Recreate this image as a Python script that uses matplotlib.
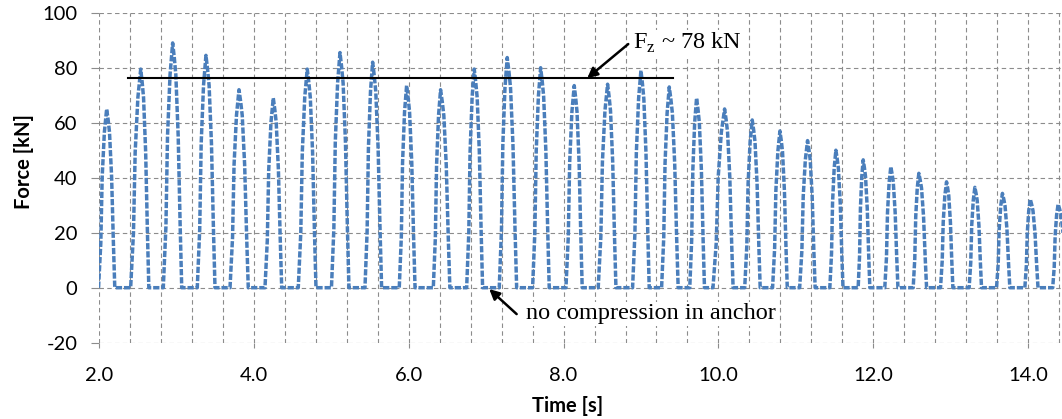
import numpy as np
import matplotlib.pyplot as plt

# pulse key points: rise start, peak time, peak value, back to zero
rise_t = [1.99, 2.405, 2.827, 3.266, 3.689, 4.141, 4.571, 5.00, 5.433, 5.876, 6.316, 6.747,
          7.168, 7.599, 8.030, 8.447, 8.891, 9.266, 9.630, 9.93, 10.34, 10.70, 11.05, 11.44,
          11.806, 12.15, 12.517, 12.87, 13.24, 13.594, 13.96, 14.32]
peak_t = [2.095, 2.535, 2.948, 3.378, 3.805, 4.248, 4.687, 5.11, 5.532, 5.971, 6.41, 6.845,
          7.271, 7.703, 8.137, 8.568, 8.999, 9.365, 9.718, 10.08, 10.437, 10.795, 11.152, 11.518,
          11.871, 12.228, 12.59, 12.948, 13.314, 13.67, 14.03, 14.39]
peak_v = [65, 79.5, 89, 84.5, 72, 69, 79.5, 85.5, 82, 73.5, 72, 79.5,
          83.7, 80, 73.5, 74, 79, 73, 69, 65, 61, 57, 53.5, 50,
          46.5, 44, 41.6, 38.5, 36.5, 34.3, 32.2, 30.4]
fall_t = [2.20, 2.64, 3.065, 3.495, 3.925, 4.357, 4.80, 5.226, 5.648, 6.08, 6.53, 6.953,
          7.393, 7.814, 8.24, 8.676, 9.106, 9.48, 9.82, 10.19, 10.54, 10.89, 11.25, 11.61,
          11.957, 12.32, 12.69, 13.03, 13.40, 13.766, 14.13, 14.50]

up_time = [0.0, 0.28, 0.45, 0.72]
up_level = [0.0, 0.25, 0.62, 0.87]
down_time = [0.18, 0.35, 0.61, 0.83, 1.0]
down_level = [0.94, 0.87, 0.62, 0.25, 0.0]

fz_level = 76.1
fz_span = [2.375, 9.408]

t = []
f = []
for a, p, v, b in zip(rise_t, peak_t, peak_v, fall_t):
    for u, l in zip(up_time, up_level):
        t.append(a + u * (p - a))
        f.append(l * v)
    t.append(p)
    f.append(v)
    for u, l in zip(down_time, down_level):
        t.append(p + u * (b - p))
        f.append(l * v)

plt.rcParams['font.family'] = ['Lato', 'DejaVu Sans']
plt.rcParams['axes.unicode_minus'] = False
plt.rcParams['mathtext.fontset'] = 'custom'
plt.rcParams['mathtext.rm'] = 'Liberation Serif'

fig = plt.figure(figsize=(10.62, 4.19), dpi=100)
ax = fig.add_axes([99.3 / 1062, 1 - 342.7 / 419, (1062 - 99.3) / 1062, 330 / 419])

ax.plot(t, f, color='#4A7EBB', lw=2.5, dashes=(1.8, 0.55), solid_joinstyle='round',
        dash_capstyle='butt', dash_joinstyle='round', zorder=3)
ax.plot(fz_span, [fz_level, fz_level], color='black', lw=1.5, zorder=4)

ax.set_xlim(2.0, 14.44)
ax.set_ylim(-20, 100)
ax.set_xticks(np.arange(2.0, 14.1, 2.0))
ax.set_xticks(np.arange(2.0, 14.45, 0.4), minor=True)
ax.set_yticks(np.arange(-20, 101, 20))
ax.set_xticklabels(['%.1f' % v for v in np.arange(2.0, 14.1, 2.0)])

for s in ax.spines.values():
    s.set_visible(False)
ax.grid(True, which='both', color='#8C8C8C', lw=0.8, dashes=(4, 3))
ax.tick_params(axis='x', which='major', length=3.6, width=0.8, color='#8C8C8C',
               labelsize=14.5, pad=14)
ax.tick_params(axis='x', which='minor', length=0)
ax.tick_params(axis='y', length=5.8, width=0.8, color='#8C8C8C', labelsize=14.5, pad=10)

ax.set_xlabel('Time [s]', fontsize=14.5, fontweight='bold')
ax.set_ylabel('Force [kN]', fontsize=14.5, fontweight='bold')
ax.xaxis.set_label_coords((568 - 99.3) / (1062 - 99.3), -(396 - 342.7) / 330)
ax.yaxis.set_label_coords(-(99.3 - 34) / (1062 - 99.3), (342.7 - 162) / 330)

arrow = dict(arrowstyle='-|>,head_length=0.6,head_width=0.3', color='black', lw=1.8,
             shrinkA=0, shrinkB=0)
ax.annotate('', xy=(8.305, 76.2), xytext=(8.835, 88.6), arrowprops=arrow, zorder=5)
ax.text(8.892, 86.8, r'F$_{\mathrm{z}}$ ~ 78 kN', family='Liberation Serif', fontsize=17.5,
        va='baseline', ha='left', zorder=5,
        bbox=dict(facecolor='white', edgecolor='none', pad=1))
ax.annotate('', xy=(7.039, -0.5), xytext=(7.393, -9.6), arrowprops=arrow, zorder=5)
ax.text(7.513, -11.4, 'no compression in anchor', family='Liberation Serif', fontsize=17.5,
        va='baseline', ha='left', zorder=5,
        bbox=dict(facecolor='white', edgecolor='none', pad=1))

plt.savefig('out.png', dpi=100)
